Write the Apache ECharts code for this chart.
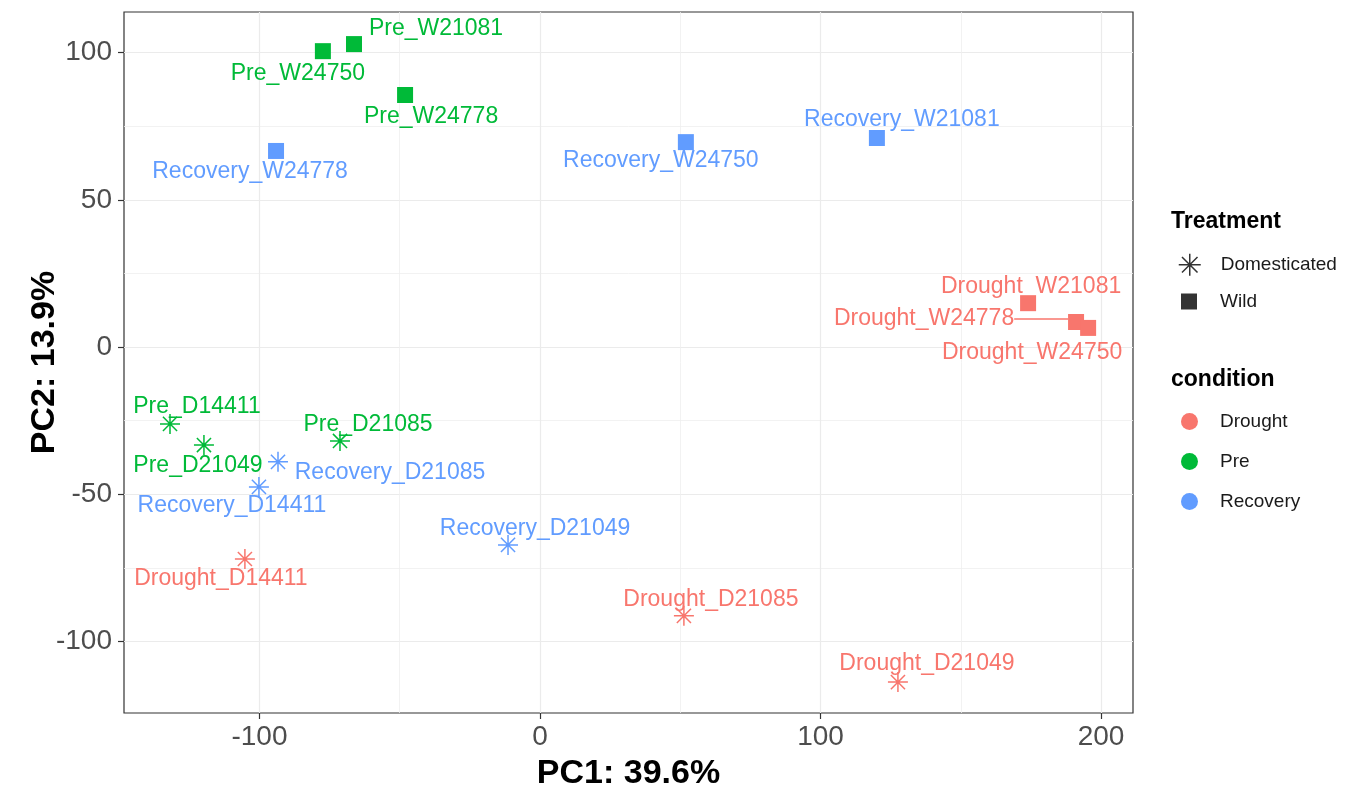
<!DOCTYPE html>
<html>
<head lang="en">
    <meta charset="UTF-8">
    <title>PCA</title>
    <style>
        html, body { margin: 0; padding: 0; background: #fff; }
    </style>
</head>
<body>
<div id="mychart" style="width: 1352px;height: 787px;"></div>
<script src="https://cdn.jsdelivr.net/npm/echarts@6/dist/echarts.min.js"></script>
<script>
// sample data
var sampleNames = ['Pre_W21081', 'Pre_W24750', 'Pre_W24778', 'Recovery_W24778', 'Recovery_W24750', 'Recovery_W21081',
    'Drought_W21081', 'Drought_W24778', 'Drought_W24750', 'Pre_D14411', 'Pre_D21049', 'Pre_D21085',
    'Recovery_D21085', 'Recovery_D14411', 'Recovery_D21049', 'Drought_D14411', 'Drought_D21085', 'Drought_D21049'];
var pc1 = [-66.3, -77.4, -48.1, -94.1, 52.0, 120.1, 174.0, 191.1, 195.4, -131.9, -119.8, -71.3, -93.4, -100.2, -11.4, -105.2, 51.3, 127.6];
var pc2 = [102.9, 100.5, 85.6, 66.6, 69.6, 71.0, 14.9, 8.5, 6.5, -26.1, -33.3, -31.9, -39.0, -47.5, -67.2, -72.0, -91.3, -113.8];
var condition = ['Pre', 'Pre', 'Pre', 'Recovery', 'Recovery', 'Recovery', 'Drought', 'Drought', 'Drought',
    'Pre', 'Pre', 'Pre', 'Recovery', 'Recovery', 'Recovery', 'Drought', 'Drought', 'Drought'];
var treatment = ['Wild', 'Wild', 'Wild', 'Wild', 'Wild', 'Wild', 'Wild', 'Wild', 'Wild',
    'Domesticated', 'Domesticated', 'Domesticated', 'Domesticated', 'Domesticated', 'Domesticated',
    'Domesticated', 'Domesticated', 'Domesticated'];
var conditions = ['Drought', 'Pre', 'Recovery'];
var treatments = ['Domesticated', 'Wild'];
var xTicks = [-100, 0, 100, 200];
var xMinor = [-50, 50, 150];
var yTicks = [-100, -50, 0, 50, 100];
var yMinor = [-75, -25, 25, 75];

// label placement (px from the point, like ggrepel)
var labelOffsets = [[82, -16], [-25, 21], [26, 21], [-26, 20], [-25, 18], [25, -19],
    [3, -18], [-152, -4], [-56, 24], [27, -18], [-6, 20], [28, -17],
    [112, 10], [-27, 18], [27, -17], [-24, 19], [27, -17], [29, -19]];

var condColors = {Drought: '#F8766D', Pre: '#00BA38', Recovery: '#619CFF'};
var asteriskPath = 'path://M10,0L10,20M0,10L20,10M2.93,2.93L17.07,17.07M17.07,2.93L2.93,17.07';
var fontFam = '"Liberation Sans", Arial, Helvetica, sans-serif';

var myChart = echarts.init(document.getElementById('mychart'));

var series = [];
conditions.forEach(function (c) {
    treatments.forEach(function (t) {
        var items = [];
        for (var i = 0; i < sampleNames.length; i++) {
            if (condition[i] !== c || treatment[i] !== t) continue;
            var item = {name: sampleNames[i], value: [pc1[i], pc2[i]]};
            // the one label ggrepel pushed far away gets a segment
            if (sampleNames[i] === 'Drought_W24778') {
                item.labelLine = {show: true, lineStyle: {color: condColors[c], width: 1.5}};
            }
            items.push(item);
        }
        var isDom = t === 'Domesticated';
        series.push({
            name: c,
            type: 'scatter',
            symbol: isDom ? asteriskPath : 'rect',
            symbolSize: isDom ? 20 : 16,
            itemStyle: isDom ? {color: condColors[c], borderColor: condColors[c], borderWidth: 1.5, opacity: 1}
                : {color: condColors[c], opacity: 1},
            label: {
                show: true,
                position: 'inside',
                formatter: '{b}',
                fontSize: 23,
                fontFamily: fontFam,
                color: condColors[c]
            },
            labelLayout: function (params) {
                var k = sampleNames.indexOf(params.text);
                if (k < 0) return {};
                return {dx: labelOffsets[k][0], dy: labelOffsets[k][1] + 1};
            },
            emphasis: {disabled: true},
            data: items
        });
    });
});
// empty series just for the Treatment legend
series.push({name: 'Domesticated', type: 'scatter', symbol: asteriskPath, data: [],
    itemStyle: {color: '#000', borderColor: '#000', borderWidth: 1.5}});
series.push({name: 'Wild', type: 'scatter', symbol: 'rect', data: [], itemStyle: {color: '#000'}});

var tickLabel = {fontSize: 28, color: '#4D4D4D', fontFamily: fontFam};

var option = {
    animation: false,
    grid: {left: 124, right: 219, top: 12, bottom: 74, show: true, borderColor: '#333333', borderWidth: 1.2,
        outerBoundsMode: 'none', containLabel: false},
    title: [
        {text: 'Treatment', left: 1171, top: 210, padding: 0,
            textStyle: {fontSize: 23, fontWeight: 'bold', color: '#000', fontFamily: fontFam}},
        {text: 'condition', left: 1171, top: 368, padding: 0,
            textStyle: {fontSize: 23, fontWeight: 'bold', color: '#000', fontFamily: fontFam}}
    ],
    legend: [
        {
            left: 1178, top: 253, padding: 0, orient: 'vertical',
            itemWidth: 22, itemHeight: 22, selectedMode: false,
            textStyle: {fontSize: 19, color: '#1A1A1A', fontFamily: fontFam, padding: [0, 0, 0, 15]},
            data: [{name: 'Domesticated', icon: asteriskPath,
                itemStyle: {color: '#000', borderColor: '#000', borderWidth: 1.5}}]
        },
        {
            left: 1181, top: 292, padding: 0, orient: 'vertical',
            itemWidth: 16, itemHeight: 16, selectedMode: false,
            textStyle: {fontSize: 19, color: '#1A1A1A', fontFamily: fontFam, padding: [0, 0, 0, 18]},
            data: [{name: 'Wild', icon: 'rect', itemStyle: {color: '#000'}}]
        },
        {
            left: 1181, top: 412, padding: 0, orient: 'vertical',
            itemWidth: 17, itemHeight: 17, itemGap: 21, selectedMode: false,
            textStyle: {fontSize: 19, color: '#1A1A1A', fontFamily: fontFam, padding: [0, 0, 0, 17]},
            data: conditions.map(function (c) {
                return {name: c, icon: 'circle', itemStyle: {color: condColors[c], borderWidth: 0}};
            })
        }
    ],
    xAxis: [
        {
            // minor grid lines
            type: 'value', min: -148.3, max: 211.4,
            axisLine: {show: false, onZero: false},
            axisTick: {show: false, customValues: xMinor},
            axisLabel: {show: false, customValues: xMinor},
            splitLine: {show: true, lineStyle: {color: '#EFEFEF', width: 0.8}}
        },
        {
            type: 'value', min: -148.3, max: 211.4, position: 'bottom',
            name: 'PC1: 39.6%', nameLocation: 'middle', nameGap: 44, nameMoveOverlap: false,
            nameTextStyle: {fontSize: 34, fontWeight: 'bold', color: '#000', fontFamily: fontFam},
            axisLine: {show: false, onZero: false},
            axisTick: {show: true, length: 6, customValues: xTicks, lineStyle: {color: '#333333', width: 1.2}},
            axisLabel: Object.assign({customValues: xTicks, margin: 10}, tickLabel),
            splitLine: {show: true, lineStyle: {color: '#EBEBEB', width: 1.2}}
        }
    ],
    yAxis: [
        {
            type: 'value', min: -124.3, max: 113.8,
            axisLine: {show: false, onZero: false},
            axisTick: {show: false, customValues: yMinor},
            axisLabel: {show: false, customValues: yMinor},
            splitLine: {show: true, lineStyle: {color: '#EFEFEF', width: 0.8}}
        },
        {
            type: 'value', min: -124.3, max: 113.8, position: 'left',
            name: 'PC2: 13.9%', nameLocation: 'middle', nameGap: 62, nameMoveOverlap: false,
            nameTextStyle: {fontSize: 34, fontWeight: 'bold', color: '#000', fontFamily: fontFam},
            axisLine: {show: false, onZero: false},
            axisTick: {show: true, length: 6, customValues: yTicks, lineStyle: {color: '#333333', width: 1.2}},
            axisLabel: Object.assign({customValues: yTicks, margin: 12}, tickLabel),
            splitLine: {show: true, lineStyle: {color: '#EBEBEB', width: 1.2}}
        }
    ],
    series: series
};
myChart.setOption(option);
</script>
</body>
</html>
